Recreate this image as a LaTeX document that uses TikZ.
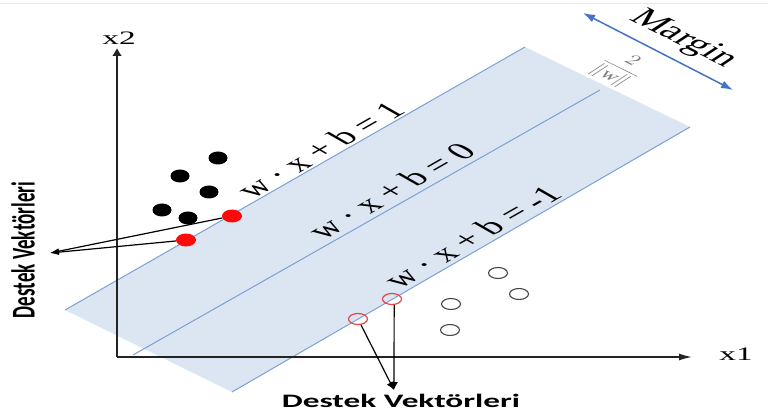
\documentclass[tikz,border=0pt]{standalone}
\usepackage{fontspec}
\setmainfont{Liberation Serif}
\newfontfamily\carl{Carlito}
\usetikzlibrary{arrows.meta,shapes.geometric}
\definecolor{bandfill}{RGB}{220,230,242}
\definecolor{bandline}{RGB}{125,160,212}
\definecolor{margblue}{RGB}{68,114,196}
\definecolor{dotred}{RGB}{250,10,10}
\definecolor{ringred}{RGB}{232,70,70}
\definecolor{ringgray}{RGB}{70,70,70}
\definecolor{axisc}{RGB}{35,35,35}
\definecolor{fracgray}{RGB}{120,120,120}
\definecolor{topline}{RGB}{232,232,232}
\begin{document}
\begin{tikzpicture}[x=1pt,y=-1pt,
 bdot/.style={ellipse,fill=black,minimum width=19pt,minimum height=13pt,inner sep=0pt},
 rdot/.style={ellipse,fill=dotred,minimum width=20pt,minimum height=13pt,inner sep=0pt},
 rring/.style={ellipse,draw=ringred,line width=1.2pt,minimum width=19pt,minimum height=11pt,inner sep=0pt},
 gring/.style={ellipse,draw=ringgray,line width=1.1pt,minimum width=19pt,minimum height=11pt,inner sep=0pt},
 bandln/.style={draw=bandline,line width=1pt},
 axis/.style={draw=axisc,line width=1.4pt},
 pointer/.style={draw=black,line width=1.2pt},
 eqtxt/.style={font=\fontsize{24}{26}\selectfont,inner sep=0pt,transform shape,rotate=45},
 lbltxt/.style={font=\carl\bfseries\fontsize{19}{20}\selectfont,inner sep=0pt,transform shape},
 axtxt/.style={font=\fontsize{19}{20}\selectfont,inner sep=0pt,transform shape},
 stxt/.style={xscale=1.75}
]
\useasboundingbox (0,0) rectangle (768,414);
\fill[white] (0,0) rectangle (768,414);
\draw[topline,line width=1pt] (0,4) -- (768,4);

% band
\coordinate (u1) at (65,310);
\coordinate (u2) at (525,47);
\coordinate (l2) at (690,127);
\coordinate (l1) at (232,392);
\coordinate (m1) at (133,355);
\coordinate (m2) at (600,90);
\fill[bandfill] (u1) -- (u2) -- (l2) -- (l1) -- cycle;
\draw[bandln] (u1) -- (u2);
\draw[bandln] (m1) -- (m2);
\draw[bandln] (l1) -- (l2);

% axes
\coordinate (O) at (117,357);
\coordinate (ytip) at (117,48);
\coordinate (xtip) at (692,357);
\draw[axis,-{Latex[length=8pt,width=10pt]}] (O) -- (ytip);
\draw[axis,-{Latex[length=13pt,width=7pt]}] (O) -- (xtip);
\begin{scope}[shift={(119,38)},stxt]
 \node[axtxt] (x2lbl) {x2};
\end{scope}
\begin{scope}[shift={(736,354)},stxt]
 \node[axtxt] (x1lbl) {x1};
\end{scope}

% class points
\node[bdot] (b1) at (218,158) {};
\node[bdot] (b2) at (180,176) {};
\node[bdot] (b3) at (209,192) {};
\node[bdot] (b4) at (162,210) {};
\node[bdot] (b5) at (188,218) {};
\node[rdot] (rd1) at (232,216) {};
\node[rdot] (rd2) at (186,240) {};
\node[rring] (rc1) at (358,319) {};
\node[rring] (rc2) at (392,299) {};
\node[gring] (g1) at (498,273) {};
\node[gring] (g2) at (519,294) {};
\node[gring] (g3) at (451,304) {};
\node[gring] (g4) at (450,330) {};

% pointers
\coordinate (tipL) at (50,253);
\draw[pointer,-{Latex[length=9pt,width=6pt]}] (rd1) -- (tipL);
\draw[pointer,-{Latex[length=9pt,width=6pt]}] (rd2) -- (tipL);
\coordinate (tipB) at (394,390);
\draw[pointer,-{Latex[length=8pt,width=8pt]}] (rc1) -- (tipB);
\draw[pointer,-{Latex[length=8pt,width=8pt]}] (rc2.-70) -- (tipB);

% equations
\begin{scope}[shift={(320,150)},stxt]
 \node[eqtxt] (eq1) {w · x + b = 1};
\end{scope}
\begin{scope}[shift={(391,191)},stxt]
 \node[eqtxt] (eq0) {w · x + b = 0};
\end{scope}
\begin{scope}[shift={(472,237)},stxt]
 \node[eqtxt] (eqm) {w · x + b = -1};
\end{scope}

% margin
\coordinate (ma) at (583,13);
\coordinate (mb) at (733,90);
\draw[margblue,line width=1.5pt,{Latex[length=12pt,width=8pt]}-{Latex[length=12pt,width=8pt]}] (ma) -- (mb);
\begin{scope}[shift={(683,39)},stxt]
 \node[font=\fontsize{25}{27}\selectfont,inner sep=0pt,transform shape,rotate=-41] (marg) {Margin};
\end{scope}
\begin{scope}[shift={(620,69)},stxt]
 \node[text=fracgray,font=\fontsize{14}{15}\selectfont,inner sep=0pt,transform shape,rotate=-41] (frac) {$\displaystyle\frac{2}{\|\mathrm{w}\|}$};
\end{scope}

% labels
\begin{scope}[shift={(23,250)},stxt]
 \node[lbltxt,rotate=90] (lblL) {Destek Vektörleri};
\end{scope}
\begin{scope}[shift={(401,407)},stxt]
 \node[lbltxt,anchor=base] (lblB) {Destek Vektörleri};
\end{scope}
\end{tikzpicture}
\end{document}
